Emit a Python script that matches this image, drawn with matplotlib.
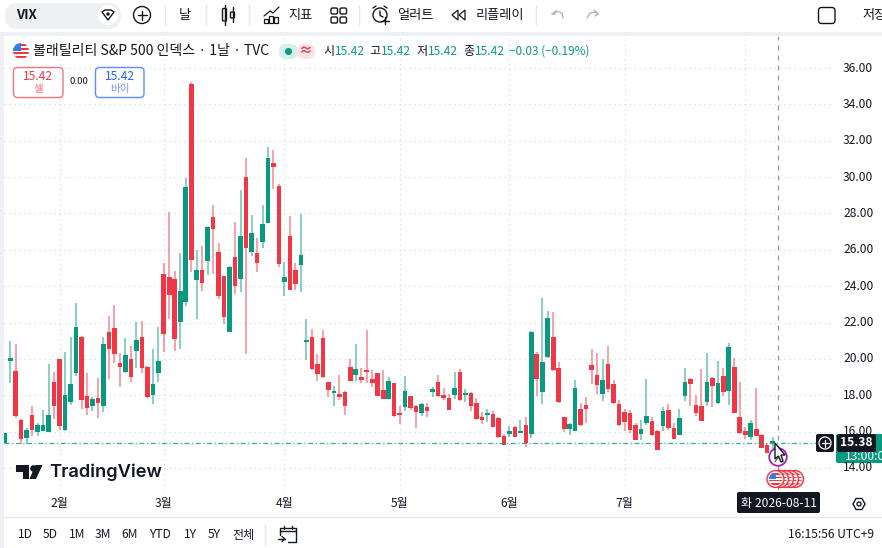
import matplotlib
matplotlib.use("Agg")
import matplotlib.pyplot as plt
from matplotlib.patches import Circle, FancyBboxPatch, Polygon, Rectangle

plt.rcParams['font.family'] = ['Noto Sans CJK KR', 'DejaVu Sans']

# VIX daily candles, oldest first
highs = [15.91, 20.98, 20.82, 16.68, 16.22, 17.41, 16.46, 17.19, 19.72, 19.26,
         19.98, 20.38, 21.22, 23.09, 21.26, 19.21, 17.92, 18.95, 21.22, 22.36,
         22.95, 20.31, 21.13, 20.71, 22.01, 22.08, 19.61, 20.53, 21.74, 25.26,
         28.10, 24.83, 25.81, 29.93, 35.25, 25.99, 26.21, 27.31, 28.46, 26.39,
         24.56, 25.11, 27.51, 29.29, 31.03, 27.91, 26.67, 28.46, 31.64, 31.49,
         29.62, 25.35, 27.88, 25.29, 27.97, 22.18, 21.63, 20.27, 21.59, 18.75,
         18.51, 19.11, 18.23, 19.98, 20.82, 19.52, 21.59, 19.37, 19.24, 19.39,
         18.99, 18.69, 17.41, 19.06, 17.98, 17.45, 17.59, 17.56, 18.45, 19.13,
         18.40, 18.09, 19.26, 19.44, 18.34, 18.18, 17.83, 17.10, 17.23, 17.15,
         16.82, 15.87, 16.33, 16.31, 16.64, 16.79, 21.55, 20.36, 23.33, 22.63,
         22.56, 19.85, 16.82, 16.46, 18.84, 17.59, 17.92, 20.53, 20.31, 19.98,
         20.71, 18.84, 17.74, 17.24, 17.19, 16.46, 16.64, 18.89, 16.79, 16.09,
         17.37, 17.52, 16.46, 17.24, 19.52, 18.93, 18.01, 19.46, 20.31, 19.02,
         19.90, 19.52, 20.86, 20.03, 18.71, 16.27, 16.64, 18.38, 15.87, 15.36, 15.72]
body_tops = [15.91, 20.07, 19.32, 16.64, 16.09, 16.90, 16.36, 16.35, 16.90, 18.71,
             19.98, 18.00, 18.60, 21.77, 21.22, 17.96, 17.79, 17.85, 20.82, 21.48,
             21.72, 19.76, 20.21, 20.01, 21.04, 21.22, 19.57, 18.60, 19.87, 24.65,
             24.52, 24.38, 23.73, 29.47, 35.12, 24.89, 24.89, 27.27, 27.82, 25.86,
             24.56, 25.04, 25.60, 26.76, 30.02, 26.91, 25.81, 27.42, 31.03, 30.77,
             29.53, 24.49, 26.76, 24.89, 25.71, 21.04, 21.22, 19.72, 21.17, 18.71,
             18.23, 18.05, 18.20, 19.54, 19.46, 19.00, 19.41, 18.91, 19.21, 18.29,
             18.80, 18.66, 17.01, 18.23, 17.94, 17.39, 17.54, 17.34, 18.34, 18.75,
             18.00, 17.85, 18.40, 19.26, 18.07, 18.14, 17.59, 16.82, 17.01, 16.99,
             16.73, 15.78, 16.03, 16.27, 16.03, 16.35, 21.46, 20.25, 19.85, 22.23,
             21.22, 19.48, 16.79, 16.42, 18.40, 17.24, 17.48, 19.66, 19.11, 18.86,
             19.72, 18.60, 17.54, 17.10, 17.02, 16.38, 16.13, 16.88, 16.58, 16.02,
             17.13, 17.17, 16.18, 16.73, 18.75, 18.89, 17.48, 17.39, 18.71, 18.97,
             18.66, 19.06, 20.67, 19.54, 16.82, 16.05, 16.49, 16.13, 15.83, 15.28, 15.42]
body_bottoms = [15.36, 19.87, 16.86, 15.59, 15.63, 16.09, 16.00, 16.05, 16.00, 17.41,
                16.31, 16.09, 17.61, 19.21, 17.72, 17.30, 17.41, 17.59, 17.41, 20.53,
                20.27, 19.55, 19.30, 19.00, 20.42, 19.52, 17.90, 18.01, 19.22, 21.39,
                23.51, 21.08, 22.05, 23.15, 25.44, 24.34, 24.16, 25.40, 27.13, 23.46,
                22.29, 21.48, 24.01, 24.39, 26.12, 25.86, 25.26, 26.41, 27.49, 30.54,
                25.22, 24.25, 23.79, 24.10, 25.16, 20.91, 19.43, 19.17, 19.02, 18.29,
                18.14, 17.89, 17.41, 18.80, 19.11, 18.84, 19.26, 18.66, 17.96, 17.81,
                17.81, 16.86, 16.93, 17.34, 17.30, 17.10, 17.01, 17.15, 18.18, 17.96,
                17.85, 17.21, 18.01, 17.74, 18.00, 17.43, 16.69, 16.64, 16.91, 16.25,
                15.70, 15.28, 15.85, 15.72, 15.94, 15.39, 15.87, 18.88, 18.18, 20.09,
                19.39, 17.63, 16.16, 16.13, 16.05, 16.36, 17.24, 19.41, 18.56, 18.07,
                18.34, 17.59, 16.38, 16.53, 16.09, 15.54, 15.85, 16.49, 15.80, 15.01,
                16.31, 16.22, 15.61, 15.81, 17.96, 18.62, 17.01, 16.60, 17.61, 18.51,
                17.56, 18.16, 18.23, 17.04, 15.94, 15.83, 15.69, 15.76, 15.10, 14.84, 15.38]
lows = [15.36, 18.66, 16.73, 15.30, 15.30, 15.78, 15.76, 16.03, 16.00, 16.69,
        16.09, 16.05, 17.46, 19.06, 17.24, 16.90, 17.15, 16.75, 17.10, 18.89,
        19.76, 18.47, 19.21, 18.75, 19.48, 19.21, 17.87, 17.52, 18.75, 20.38,
        22.19, 20.43, 20.56, 22.93, 24.76, 22.19, 23.75, 24.61, 24.67, 23.28,
        21.90, 21.48, 23.55, 23.70, 20.27, 25.66, 24.80, 26.12, 27.46, 29.33,
        25.07, 23.46, 23.79, 23.79, 23.68, 19.94, 19.39, 18.80, 18.97, 17.92,
        17.41, 17.74, 16.90, 18.77, 18.77, 18.66, 18.69, 18.45, 17.96, 17.79,
        17.79, 16.82, 16.42, 17.15, 17.19, 16.20, 16.86, 16.82, 17.89, 17.92,
        17.74, 17.19, 17.79, 17.70, 17.65, 17.15, 16.64, 16.44, 16.53, 16.23,
        15.67, 15.26, 15.69, 15.69, 15.94, 15.17, 15.63, 17.96, 17.52, 20.03,
        19.33, 17.59, 16.00, 15.80, 16.05, 16.33, 16.49, 18.62, 18.07, 17.70,
        18.20, 17.52, 16.31, 16.02, 15.91, 15.54, 15.54, 16.36, 15.76, 14.99,
        16.05, 16.09, 15.58, 15.81, 17.70, 17.41, 16.86, 16.60, 17.41, 17.37,
        17.52, 17.96, 17.46, 17.04, 15.87, 15.58, 15.54, 15.76, 15.10, 14.81, 15.06]
# u = close above open (drawn red on this locale), d = close below open (green)
moves = ("dduududddu" "uddduududu" "uududuuddu" "uuddududuu" "ududududdu"
         "uduudduuuu" "duuuduuuuu" "duuduududu" "uududuuudu" "uududududd"
         "uuudduuuud" "uuuuuudduu" "duudduuudu" "duduuuduuu" "d")

month_ticks = [10, 29, 51, 72, 92, 113]
month_labels = ["2월", "3월", "4월", "5월", "6월", "7월"]
august_tick = 135
price_ticks = [14, 16, 18, 20, 22, 24, 26, 28, 30, 32, 34, 36]
last_price = 15.38
ohlc_labels = [("시", "15.42", 323), ("고", "15.42", 369), ("저", "15.42", 416), ("종", "15.42", 463)]
range_labels = ["1D", "5D", "1M", "3M", "6M", "YTD", "1Y", "5Y", "전체"]
range_x = [25, 50, 77, 103, 130, 160, 190, 214, 244]

RED = "#F23645"
GREEN = "#089981"
BLUE = "#2962FF"
INK = "#131722"
GRID = "#D9DCE3"

fig = plt.figure(figsize=(8.82, 5.48), dpi=100, facecolor="white")

# chart pane, placed so prices and bars land on the same pixels as the screenshot
px = lambda v: v / 882
py = lambda v: 1 - v / 548
ax = fig.add_axes([px(4), py(490), px(829), (490 - 36) / 548])
ax.set_xlim(-0.13, 151)
ax.set_ylim(12.79, 37.76)
for s in ax.spines.values():
    s.set_visible(False)
ax.tick_params(length=0, labelbottom=False, labelleft=False)
ax.set_xticks(month_ticks + [august_tick])
ax.set_yticks(price_ticks)
ax.grid(True, color=GRID, linestyle=(0, (1, 3)), linewidth=0.9)
ax.set_axisbelow(True)

for i, m in enumerate(moves):
    col = RED if m == "u" else GREEN
    ax.vlines(i, lows[i], highs[i], color=col, linewidth=1.1, alpha=0.6, zorder=2)
    ax.bar(i, max(body_tops[i] - body_bottoms[i], 0.1), bottom=body_bottoms[i],
           width=0.84, color=col, edgecolor="none", zorder=3)

ax.axhline(last_price, color=GREEN, linewidth=0.9, linestyle=(0, (4, 2, 1, 2)), alpha=0.8, zorder=4)
ax.axvline(141, color="#9598A1", linewidth=0.9, linestyle=(0, (4, 4)), zorder=5)

# everything else is screen furniture, drawn in pixel coordinates
ui = fig.add_axes([0, 0, 1, 1], facecolor="none")
ui.set_xlim(0, 882)
ui.set_ylim(548, 0)
ui.axis("off")


def label(x, y, s, size=9, color=INK, ha="left", weight="normal", zorder=8, **kw):
    return ui.text(x, y, s, fontsize=size, color=color, ha=ha, va="center", fontweight=weight, zorder=zorder, **kw)


def box(x0, y0, x1, y1, r=3, fc="white", ec="none", lw=1, z=6):
    p = FancyBboxPatch((x0 + r, y0 + r), x1 - x0 - 2 * r, y1 - y0 - 2 * r,
                       boxstyle=f"round,pad={r},rounding_size={r}", fc=fc, ec=ec, lw=lw, zorder=z)
    ui.add_patch(p)


def line(xs, ys, color=INK, lw=1, z=7, **kw):
    ui.plot(xs, ys, color=color, lw=lw, zorder=z, solid_capstyle="round", **kw)


def flag(x, y, r, z=8):
    disc = Circle((x, y), r, fc="white", ec="none", zorder=z)
    ui.add_patch(disc)
    for k in range(-3, 4, 2):
        st = Rectangle((x - r, y + k * r / 4 - r / 8), 2 * r, r / 4, fc=RED, ec="none", zorder=z + 0.01)
        ui.add_patch(st)
        st.set_clip_path(disc)
    cant = Rectangle((x - r, y - r), r, r, fc="#2F80ED", ec="none", zorder=z + 0.02)
    ui.add_patch(cant)
    cant.set_clip_path(disc)


# window chrome
ui.add_patch(Rectangle((0, 32), 882, 3.5, fc="#EFF0F3", ec="none", zorder=1))
ui.add_patch(Rectangle((0, 32), 3.5, 516, fc="#EFF0F3", ec="none", zorder=1))
line([4, 882], [517, 517], color="#E6E8EE", lw=1)

# top toolbar
box(5, 3, 121, 29, r=13, fc="#EFF0F2")
ui.add_patch(Circle((108, 15), 10, fc="white", ec="none", zorder=7))
ui.add_patch(Polygon([(102, 12), (105, 10), (111, 10), (114, 12), (108, 20)], fc="none", ec=INK, lw=1, zorder=8))
ui.add_patch(Circle((108, 14), 1.7, fc=INK, ec="none", zorder=8))
label(16, 15, "VIX", 9.5, weight="bold")
ui.add_patch(Circle((142, 15), 8.5, fc="white", ec=INK, lw=1, zorder=7))
line([137.5, 146.5], [15, 15])
line([142, 142], [10.5, 19.5])
for sx in [164.5, 206, 249, 359, 536]:
    line([sx, sx], [5, 25], color="#E6E8EE")
label(185, 15, "날", 9.5, ha="center")
# candle icon
line([224.5, 224.5], [5, 25], lw=1)
line([232.5, 232.5], [7, 22], lw=1)
box(222.5, 8.5, 226.5, 21, r=1, fc="white", ec=INK)
box(230.5, 12, 234.5, 18, r=1, fc="white", ec=INK)
# indicators icon
line([264, 270, 273, 279], [16, 11, 13, 7], lw=0.9)
for bx, bt in [(264, 19), (269, 16), (274, 17)]:
    ui.add_patch(Rectangle((bx, bt), 4, 23 - bt, fc="white", ec=INK, lw=0.9, zorder=7))
label(288, 15, "지표", 9.5)
for gx in [331, 340]:
    box(gx, 8, gx + 6.5, 14, r=1.5, ec=INK)
    box(gx, 17, gx + 6.5, 23, r=1.5, ec=INK)
# alert icon
ui.add_patch(Circle((380, 15), 7, fc="white", ec=INK, lw=1, zorder=7))
line([380, 380, 383], [11, 15.5, 17])
line([373, 376], [8, 6])
line([384, 387], [6, 8])
line([385, 385], [17, 24])
line([381.5, 388.5], [20.5, 20.5])
label(397, 15, "얼러트", 9.5)
ui.add_patch(Polygon([(458, 10), (452, 15), (458, 20)], fc="none", ec=INK, lw=0.9, zorder=7))
ui.add_patch(Polygon([(465, 10), (459, 15), (465, 20)], fc="none", ec=INK, lw=0.9, zorder=7))
label(476, 15, "리플레이", 9.5)
line([552, 556, 562, 563], [14, 11, 13, 18], color="#B2B5BE")
line([552, 555, 556], [14, 14, 11], color="#B2B5BE")
line([587, 590, 597, 598], [18, 13, 12, 14], color="#B2B5BE")
line([594, 598, 595], [10, 14, 16], color="#B2B5BE")
box(818.5, 7.5, 835, 23.5, r=3, ec=INK)
label(862, 15, "저장", 9.5)

# legend row
flag(21, 51, 8)
label(33, 51, "볼래틸리티 S&P 500 인덱스 · 1날 · TVC", 10.05)
box(279, 44, 298, 59, r=7, fc="#D5F0EA")
box(297, 44, 315, 59, r=7, fc="#FCE3EA")
ui.add_patch(Circle((288.5, 51.5), 3.5, fc=GREEN, ec="none", zorder=8))
label(305.5, 51, "≈", 10, RED, ha="center", weight="bold")
for name, val, x0 in ohlc_labels:
    label(x0, 51.5, name, 8.7)
    label(x0 + 12, 51.5, val, 8.7, GREEN)
label(509, 51.5, "−0.03 (−0.19%)", 8.5, GREEN)

# trade buttons
box(13.5, 67.5, 63, 97.5, r=4, ec="#F7717E", fc="white")
label(38, 76, "15.42", 8.7, RED, ha="center", weight="medium")
label(38, 89, "셀", 7.6, "#F7717E", ha="center")
label(79, 82, "0.00", 6.8, ha="center")
box(95.5, 67.5, 144, 97.5, r=4, ec="#5E8BFF", fc="white")
label(120, 76, "15.42", 8.7, BLUE, ha="center", weight="medium")
label(120, 89, "바이", 7.6, "#6F97FF", ha="center")

# price and time axes
for p in price_ticks:
    label(843, 68 + (36 - p) * 18.18, f"{p:.2f}", 8.7)
for t, s in zip(month_ticks, month_labels):
    label(4.7 + t * 5.486, 503, s, 8.7, ha="center")
box(836, 434, 884, 463, r=2, fc=GREEN)
label(845, 456.5, "13:00:05", 8.7, "white")
box(816, 434, 834, 452, r=2, fc=INK, z=9)
ui.add_patch(Circle((825, 443), 6, fc="none", ec="white", lw=0.9, zorder=10))
line([821.5, 828.5], [443, 443], color="white", lw=0.9, z=10)
line([825, 825], [439.5, 446.5], color="white", lw=0.9, z=10)
box(837, 434, 876, 452, r=2, fc=INK, z=9)
label(856.5, 443, f"{last_price:.2f}", 8.7, "white", ha="center", weight="bold", zorder=10)
box(737, 492, 820, 513, r=2, fc=INK, z=9)
label(778.5, 503, "화 2026-08-11", 8.7, "white", ha="center", zorder=10)
ui.add_patch(Polygon([(853, 504), (856, 498.5), (862, 498.5), (865, 504), (862, 509.5), (856, 509.5)],
                     fc="white", ec=INK, lw=1, zorder=8))
ui.add_patch(Circle((859, 504), 2, fc="white", ec=INK, lw=1, zorder=9))

# TradingView mark
ui.add_patch(Polygon([(15.5, 465), (29, 465), (29, 479), (22.5, 479), (22.5, 471.5), (15.5, 471.5)], fc=INK, ec="none", zorder=6))
ui.add_patch(Circle((33.5, 468.5), 3.3, fc=INK, ec="none", zorder=6))
ui.add_patch(Polygon([(36, 479), (29.5, 479), (35.5, 465), (42.5, 465)], fc=INK, ec="none", zorder=6))
label(49, 472, "TradingView", 13.2, INK, weight="semibold", family="Inter", zorder=6)

# earnings/news flags and cursor
for n, fx in enumerate([795, 790, 785, 780, 775.5]):
    z = 6 + n * 0.1
    ui.add_patch(Circle((fx, 479), 8.5, fc="#FFE3E3", ec=RED, lw=1, zorder=z))
    flag(fx, 479, 6.5, z=z + 0.03)
ui.add_patch(Circle((778, 457), 8.8, fc="white", ec="#9C27B0", lw=1.3, zorder=8))
line([775, 779, 782], [462, 456, 458], color="#555555", lw=0.8, z=9)
ui.add_patch(Polygon([(775, 443), (775, 459), (778.5, 456), (781, 462), (783, 461), (781, 455), (785, 455)],
                     fc="white", ec=INK, lw=1, zorder=10))

# bottom bar
for s, x0 in zip(range_labels, range_x):
    label(x0, 535, s, 8.7, ha="center")
line([265, 265], [525, 545], color="#E6E8EE")
line([280, 280, 296, 296, 288], [535, 527.5, 527.5, 542, 542], lw=1)
line([280, 296], [531, 531], lw=1)
line([284, 284], [526, 529], lw=1)
line([292, 292], [526, 529], lw=1)
line([278, 285], [539, 539], lw=1)
line([282, 285, 282], [536.5, 539, 541.5], lw=1)
label(874, 535, "16:15:56 UTC+9", 8.7, ha="right")

fig.savefig("out.png", dpi=100)
